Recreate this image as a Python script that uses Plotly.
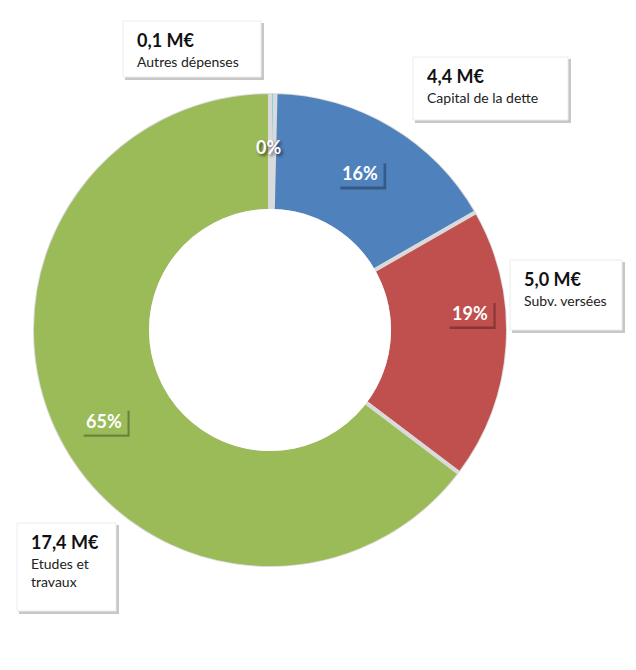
import math
import plotly.graph_objects as go

# données (M€)
labels = ["Autres dépenses", "Capital de la dette", "Subv. versées", "Etudes et travaux"]
values = [0.1, 4.4, 5.0, 17.4]
colors = ["#8fcde0", "#4f81bd", "#c0504d", "#9bbb59"]
callout_text = ["Autres dépenses", "Capital de la dette", "Subv. versées", "Etudes et<br>travaux"]

W, H = 636, 670
cx, cy, R = 270, 330, 238  # centre et rayon de l'anneau en px
HOLE = 0.5
label_r = 0.79  # position des pourcentages (fraction du rayon)
# décalages manuels des pourcentages (px), comme dans l'original
label_shift = [(-4, 5), (-6, 5), (12, -29), (2, 7)]

# boîtes des étiquettes en px : x0, y0, x1, y1
boxes = [(123, 21, 261, 77), (413, 57, 568, 120), (510, 260, 622, 330), (17, 523, 116, 611)]

FONT = "Lato"


def px(x):
    return x / W


def py(y):
    return 1 - y / H


fig = go.Figure(go.Pie(
    labels=labels, values=values, sort=False, direction="clockwise", rotation=0,
    hole=HOLE, textinfo="none",
    marker=dict(colors=colors, line=dict(color="#dadada", width=4)),
    domain=dict(x=[px(cx - R), px(cx + R)], y=[py(cy + R), py(cy - R)]),
    showlegend=False,
))

shapes = []
# on masque le trait gris au bord du trou et au bord extérieur
hr = HOLE * R + 2
shapes.append(dict(type="circle", xref="paper", yref="paper",
                   x0=px(cx - hr), x1=px(cx + hr), y0=py(cy + hr), y1=py(cy - hr),
                   fillcolor="white", line=dict(width=0), layer="above"))
shapes.append(dict(type="circle", xref="paper", yref="paper",
                   x0=px(cx - R - 1), x1=px(cx + R + 1), y0=py(cy + R + 1), y1=py(cy - R - 1),
                   line=dict(color="white", width=4), layer="above"))

total = sum(values)
cum = 0
annotations = []
for i, v in enumerate(values):
    # étiquette de pourcentage au milieu de la part
    mid = (cum + v / 2) / total
    cum += v
    ang = 2 * math.pi * mid
    lx = cx + label_r * R * math.sin(ang) + label_shift[i][0]
    ly = cy - label_r * R * math.cos(ang) + label_shift[i][1]
    pct = f"{round(v / total * 100)}%"
    bw, bh = 46, 26
    if v / total > 0.02:
        shapes.append(dict(type="rect", xref="paper", yref="paper",
                           x0=px(lx - bw / 2 + 3), x1=px(lx + bw / 2 + 3),
                           y0=py(ly + bh / 2 + 3), y1=py(ly - bh / 2 + 3),
                           fillcolor="rgba(0,0,0,0.3)", line=dict(width=0), layer="above"))
        annotations.append(dict(
            x=px(lx), y=py(ly), xref="paper", yref="paper", xanchor="center", yanchor="middle",
            text=f"<b>{pct}</b>", showarrow=False,
            font=dict(family=FONT, size=18, color="white"),
            width=bw - 2, height=bh - 2, borderpad=1, bgcolor=colors[i]))
    else:
        annotations.append(dict(
            x=px(lx), y=py(ly), xref="paper", yref="paper", xanchor="center", yanchor="middle",
            text=f"<b>{pct}</b>", showarrow=False,
            font=dict(family=FONT, size=18, color="white", shadow="2px 2px 3px rgba(0,0,0,0.6)")))

    # boîte de légende avec montant
    x0, y0, x1, y1 = boxes[i]
    shapes.append(dict(type="rect", xref="paper", yref="paper",
                       x0=px(x0 + 2), x1=px(x1 + 3), y0=py(y1 + 3), y1=py(y0 + 2),
                       fillcolor="rgba(0,0,0,0.22)", line=dict(width=0), layer="above"))
    shapes.append(dict(type="rect", xref="paper", yref="paper",
                       x0=px(x0), x1=px(x1), y0=py(y1), y1=py(y0),
                       fillcolor="white", line=dict(color="#ececec", width=1), layer="above"))
    amount = f"{v:.1f}".replace(".", ",") + " M€"
    annotations.append(dict(
        x=px(x0 + 12), y=py(y0 + 19), xref="paper", yref="paper", xanchor="left", yanchor="middle",
        text=f"<b>{amount}</b>", showarrow=False, font=dict(family=FONT, size=18, color="#111111")))
    annotations.append(dict(
        x=px(x0 + 12), y=py(y0 + 30), xref="paper", yref="paper", xanchor="left", yanchor="top",
        text=callout_text[i], showarrow=False, align="left",
        font=dict(family=FONT, size=14, color="#222222")))

fig.update_layout(
    width=W, height=H, margin=dict(l=0, r=0, t=0, b=0),
    paper_bgcolor="white", plot_bgcolor="white",
    annotations=annotations, shapes=shapes,
)

fig.write_html("out.html", config={"displayModeBar": False},
               post_script="document.body.style.margin='0';")
